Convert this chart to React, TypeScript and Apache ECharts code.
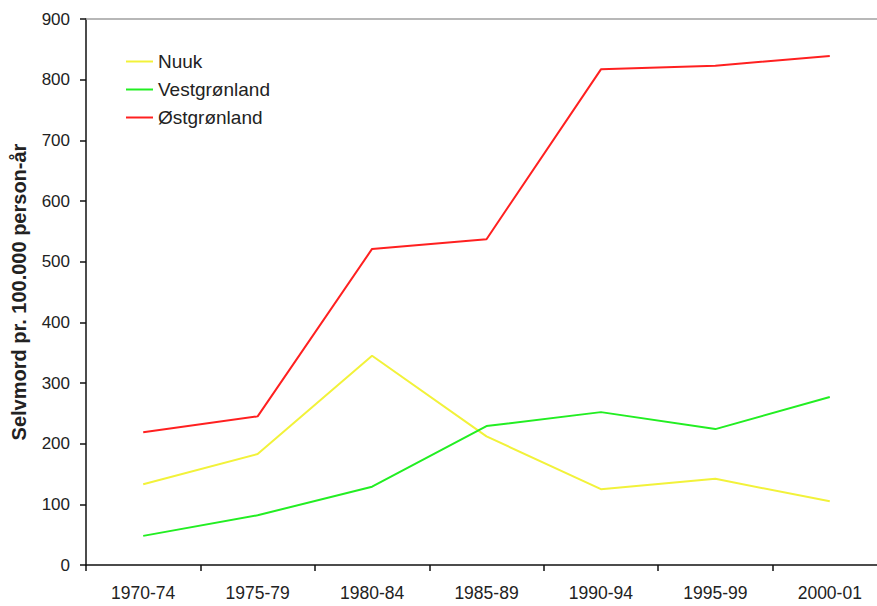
import React, { useEffect, useRef } from "react";
import * as echarts from "echarts";

const categories = ["1970-74", "1975-79", "1980-84", "1985-89", "1990-94", "1995-99", "2000-01"];
const nuuk = [133, 183, 345, 212, 125, 142, 105];
const vest = [48, 82, 129, 229, 252, 224, 277];
const oest = [219, 245, 521, 537, 817, 823, 839];
const yTicks = { min: 0, max: 900, interval: 100 };

export default function App() {
  const ref = useRef<HTMLDivElement>(null);
  useEffect(() => {
    const chart = echarts.init(ref.current!, null, { renderer: "svg" });
    const font = "Liberation Sans";
    chart.setOption({
      animation: false,
      backgroundColor: "#fff",
      textStyle: { fontFamily: font },
      grid: { left: 86, top: 19, width: 801, height: 546, outerBoundsMode: "none", containLabel: false },
      legend: {
        orient: "vertical",
        left: 126,
        top: 52,
        padding: 0,
        icon: "rect",
        itemWidth: 27,
        itemHeight: 2,
        itemGap: 9,
        textStyle: { fontSize: 19, color: "#222", fontFamily: font },
        data: ["Nuuk", "Vestgrønland", "Østgrønland"],
      },
      xAxis: [
        {
          type: "category",
          data: categories,
          boundaryGap: true,
          axisLine: { lineStyle: { color: "#111", width: 1.5 } },
          axisTick: { show: true, length: 6, lineStyle: { color: "#111", width: 1.5 } },
          axisLabel: { color: "#222", fontSize: 17.5, margin: 19, fontFamily: font },
        },
        {
          type: "category",
          data: categories,
          position: "top",
          axisLine: { lineStyle: { color: "#a0a0a0", width: 1.5 } },
          axisTick: { show: false },
          axisLabel: { show: false },
        },
      ],
      yAxis: {
        type: "value",
        ...yTicks,
        name: "Selvmord pr. 100.000 person-år",
        nameLocation: "middle",
        nameGap: 57,
        nameTextStyle: { fontWeight: "bold", fontSize: 20, color: "#222", fontFamily: font },
        axisLine: { show: true, lineStyle: { color: "#111", width: 1.5 } },
        axisTick: { show: true, length: 6, lineStyle: { color: "#111", width: 1.5 } },
        axisLabel: { color: "#222", fontSize: 17, margin: 16, fontFamily: font },
        splitLine: { show: false },
      },
      series: [
        { name: "Nuuk", type: "line", data: nuuk, symbol: "none", lineStyle: { color: "#f2f23a", width: 2 }, itemStyle: { color: "#f2f23a" } },
        { name: "Vestgrønland", type: "line", data: vest, symbol: "none", lineStyle: { color: "#22ee22", width: 2 }, itemStyle: { color: "#22ee22" } },
        { name: "Østgrønland", type: "line", data: oest, symbol: "none", lineStyle: { color: "#ff2020", width: 2 }, itemStyle: { color: "#ff2020" } },
      ],
    });
    return () => chart.dispose();
  }, []);
  return (
    <div style={{ width: 877, height: 606, position: "absolute", left: 0, top: 0, overflow: "hidden" }}>
      <div ref={ref} style={{ width: 890, height: 606 }} />
    </div>
  );
}
